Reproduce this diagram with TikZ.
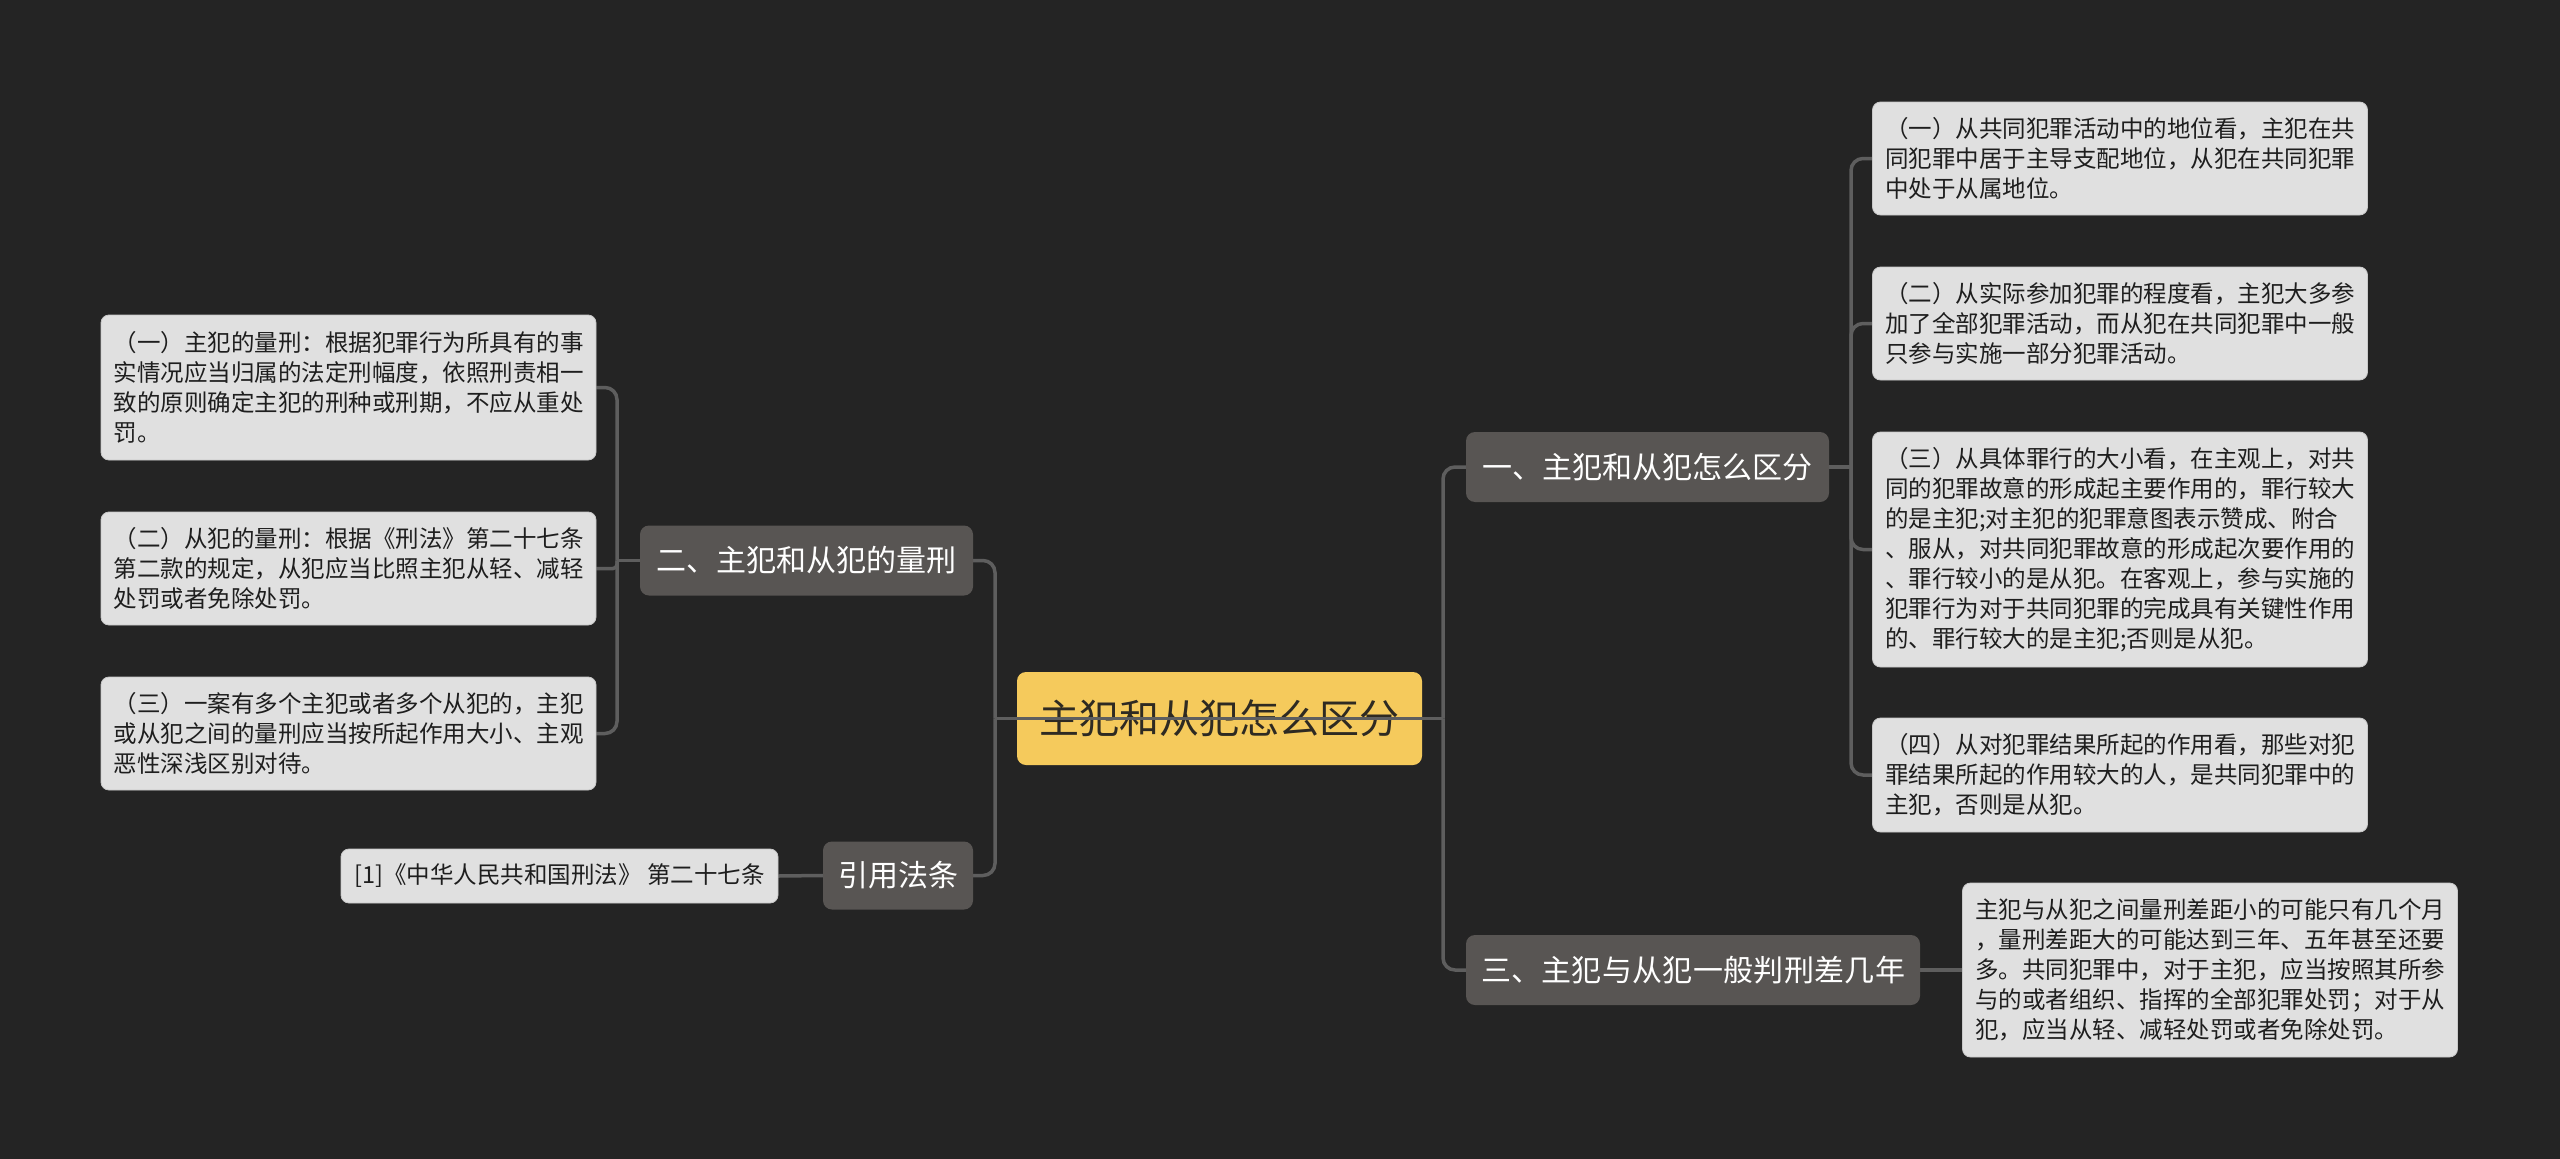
\documentclass[tikz,border=0pt]{standalone}
\usepackage{fontspec}
\setmainfont{Noto Sans CJK SC}
\usetikzlibrary{calc}
\newcommand\wk{\hfill}
\definecolor{bgc}{HTML}{242424}
\definecolor{leaffill}{HTML}{E0E0E0}
\definecolor{leafedge}{HTML}{C8C8C8}
\definecolor{leaftext}{HTML}{1E1E1E}
\definecolor{branchfill}{HTML}{585553}
\definecolor{rootfill}{HTML}{F5CA5C}
\definecolor{roottext}{HTML}{2E2A22}
\definecolor{connc}{HTML}{5E5E5E}
\pgfdeclarelayer{bglayer}
\pgfdeclarelayer{edges}
\pgfsetlayers{bglayer,edges,main}
\tikzset{
  leafbox/.style={fill=leaffill, draw=leafedge, line width=0.8pt, rounded corners=8pt,
    text=leaftext, align=left, text width=470pt, inner xsep=12.5pt, inner ysep=0pt,
    font=\fontsize{23.5pt}{30pt}\selectfont},
  refbox/.style={fill=leaffill, draw=leafedge, line width=0.8pt, rounded corners=8pt,
    text=leaftext, inner sep=0pt, font=\fontsize{23.5pt}{30pt}\selectfont},
  branch/.style={fill=branchfill, rounded corners=9pt, text=white, inner sep=0pt,
    minimum height=70pt, font=\fontsize{30pt}{36pt}\selectfont},
  rootbox/.style={fill=rootfill, rounded corners=9pt, text=roottext, inner sep=0pt,
    minimum width=405pt, minimum height=93pt, font=\fontsize{40pt}{48pt}\selectfont},
  conn/.style={draw=connc, line width=3.5pt, rounded corners=12pt},
}
\begin{document}
\begin{tikzpicture}[x=1pt,y=-1pt]
\useasboundingbox (0,0) rectangle (2560,1159);
\begin{pgfonlayer}{bglayer}
\fill[bgc] (0,0) rectangle (2560,1159);
\end{pgfonlayer}

% root
\node[rootbox] (root) at (1219.5,718.5) {主犯和从犯怎么区分};

% left branches
\node[branch, minimum width=333pt] (n2) at (806.5,560.5) {二、主犯和从犯的量刑};
\node[branch, minimum width=150pt, minimum height=68pt] (cite) at (898,875.5) {引用法条};
\node[refbox, minimum width=437pt, minimum height=54pt] (ref) at (559.5,876) {[1]《中华人民共和国刑法》 第二十七条};

\node[leafbox, minimum height=145pt] (L1) at (348.5,387.5) {（一）主犯的量刑：根据犯罪行为所具有的事\\实情况应当归属的法定刑幅度，依照刑责相一\\致的原则确定主犯的刑种或刑期，不应从重处\\罚。};
\node[leafbox, minimum height=113pt] (L2) at (348.5,568.5) {（二）从犯的量刑：根据《刑法》第二十七条\\第二款的规定，从犯应当比照主犯从轻、减轻\\处罚或者免除处罚。};
\node[leafbox, minimum height=113pt] (L3) at (348.5,733.5) {（三）一案有多个主犯或者多个从犯的，主犯\\或从犯之间的量刑应当按所起作用大小、主观\\恶性深浅区别对待。};

% right branches
\node[branch, minimum width=363pt] (n1) at (1647.5,467) {一、主犯和从犯怎么区分};
\node[branch, minimum width=454pt] (n3) at (1693,970) {\makebox[424pt][s]{三\wk{}、\wk{}主\wk{}犯\wk{}与\wk{}从\wk{}犯\wk{}一\wk{}般\wk{}判\wk{}刑\wk{}差\wk{}几\wk{}年}};

\node[leafbox, minimum height=113pt] (R1) at (2120,158.5) {（一）从共同犯罪活动中的地位看，主犯在共\\同犯罪中居于主导支配地位，从犯在共同犯罪\\中处于从属地位。};
\node[leafbox, minimum height=113pt] (R2) at (2120,323.5) {（二）从实际参加犯罪的程度看，主犯大多参\\加了全部犯罪活动，而从犯在共同犯罪中一般\\只参与实施一部分犯罪活动。};
\node[leafbox, minimum height=235pt] (R3) at (2120,549.5) {（三）从具体罪行的大小看，在主观上，对共\\同的犯罪故意的形成起主要作用的，罪行较大\\的是主犯;对主犯的犯罪意图表示赞成、附合\\、服从，对共同犯罪故意的形成起次要作用的\\、罪行较小的是从犯。在客观上，参与实施的\\犯罪行为对于共同犯罪的完成具有关键性作用\\的、罪行较大的是主犯;否则是从犯。};
\node[leafbox, minimum height=114pt] (R4) at (2120,775) {（四）从对犯罪结果所起的作用看，那些对犯\\罪结果所起的作用较大的人，是共同犯罪中的\\主犯，否则是从犯。};
\node[leafbox, minimum height=174pt] (R5) at (2210,970) {主犯与从犯之间量刑差距小的可能只有几个月\\，量刑差距大的可能达到三年、五年甚至还要\\多。共同犯罪中，对于主犯，应当按照其所参\\与的或者组织、指挥的全部犯罪处罚；对于从\\犯，应当从轻、减轻处罚或者免除处罚。};

% junction coordinates
\coordinate (tL) at (995,718.5);
\coordinate (tR) at (1443,718.5);
\coordinate (jL) at (617,560.5);
\coordinate (jR) at (1851,467);

\begin{pgfonlayer}{edges}
\draw[conn] (n2.west) -- (jL);
\draw[conn] (jL) |- (L1.east);
\draw[conn, rounded corners=4pt] (jL) |- (L2.east);
\draw[conn] (jL) |- (L3.east);
\draw[conn] (cite.west) -- (ref.east);

\draw[conn] (n1.east) -- (jR);
\draw[conn] (jR) |- (R1.west);
\draw[conn] (jR) |- (R2.west);
\draw[conn] (jR) |- (R3.west);
\draw[conn] (jR) |- (R4.west);
\draw[conn] (n3.east) -- (R5.west);

\draw[conn] (tL) |- (n2.east);
\draw[conn] (tL) |- (cite.east);
\draw[conn] (tR) |- (n1.west);
\draw[conn] (tR) |- (n3.west);
\end{pgfonlayer}

% line from root to both trunks, drawn over the root
\draw[conn] (root.center) -- (tL);
\draw[conn] (root.center) -- (tR);
\end{tikzpicture}
\end{document}
